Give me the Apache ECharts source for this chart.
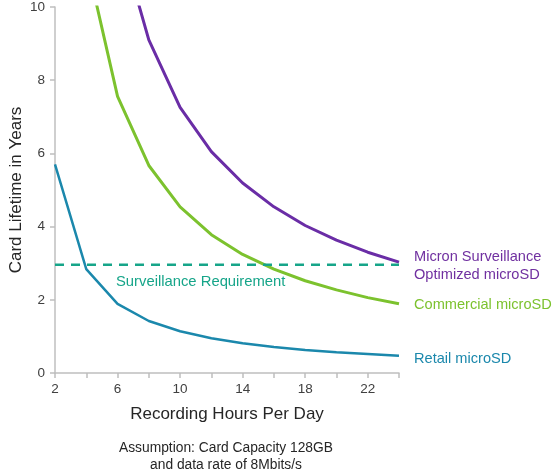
<!DOCTYPE html>
<html>
<head>
<meta charset="utf-8">
<script src="https://cdn.jsdelivr.net/npm/echarts@6/dist/echarts.min.js"></script>
<style>html,body{margin:0;padding:0;background:#fff;}#c{width:553px;height:474px;}</style>
</head>
<body>
<div id="c"></div>
<script>
const hours = [2, 4, 6, 8, 10, 12, 14, 16, 18, 20, 22, 24];
const micron = [36.3, 18.1, 12.1, 9.1, 7.26, 6.05, 5.19, 4.54, 4.03, 3.63, 3.3, 3.03];
const commercial = [22.7, 11.3, 7.56, 5.67, 4.54, 3.78, 3.24, 2.84, 2.52, 2.27, 2.06, 1.89];
const retail = [5.7, 2.84, 1.89, 1.42, 1.14, 0.95, 0.81, 0.71, 0.63, 0.57, 0.52, 0.47];
const requirement = 2.96;
const xTickLabels = [2, 6, 10, 14, 18, 22];

const FONT = '"Liberation Sans", Arial, sans-serif';
const pair = (arr) => hours.map((h, i) => [h, arr[i]]);

const chart = echarts.init(document.getElementById('c'), null, {renderer: 'canvas'});
chart.setOption({
  animation: false,
  textStyle: {fontFamily: FONT},
  grid: {left: 55, right: 154, top: 7, bottom: 101, containLabel: false, outerBoundsMode: 'none'},
  xAxis: {
    type: 'value', min: 2, max: 24, interval: 2,
    name: 'Recording Hours Per Day', nameLocation: 'middle', nameGap: 33,
    nameTextStyle: {fontSize: 17, color: '#262626', fontFamily: FONT},
    axisLine: {show: true, lineStyle: {color: '#bfbfbf', width: 1.5}},
    axisTick: {show: true, length: 5, lineStyle: {color: '#bfbfbf', width: 1.5}},
    axisLabel: {fontSize: 13.5, color: '#404040', margin: 9, fontFamily: FONT,
      formatter: v => xTickLabels.includes(v) ? String(v) : ''},
    splitLine: {show: false}
  },
  yAxis: {
    type: 'value', min: 0, max: 10, interval: 2,
    name: 'Card Lifetime in Years', nameLocation: 'middle', nameGap: 30, nameMoveOverlap: false,
    nameTextStyle: {fontSize: 17, color: '#262626', fontFamily: FONT},
    axisLine: {show: true, lineStyle: {color: '#bfbfbf', width: 1.5}},
    axisTick: {show: true, length: 5, lineStyle: {color: '#bfbfbf', width: 1.5}},
    axisLabel: {fontSize: 13.5, color: '#404040', margin: 10, fontFamily: FONT},
    splitLine: {show: false}
  },
  series: [
    {
      name: 'Retail microSD', type: 'line', data: pair(retail), showSymbol: false, symbol: 'none',
      lineStyle: {color: '#1b88ac', width: 2.5}, clip: true,
      endLabel: {show: true, formatter: 'Retail microSD', color: '#1b88ac', fontSize: 14.6, distance: 15, fontFamily: FONT, offset: [0, 3]}
    },
    {
      name: 'Commercial microSD', type: 'line', data: pair(commercial), showSymbol: false, symbol: 'none',
      lineStyle: {color: '#7cc22e', width: 3}, clip: true,
      endLabel: {show: true, formatter: 'Commercial microSD', color: '#7cc22e', fontSize: 14.6, distance: 15, fontFamily: FONT, offset: [0, 1]}
    },
    {
      name: 'Micron Surveillance Optimized microSD', type: 'line', data: pair(micron), showSymbol: false, symbol: 'none',
      lineStyle: {color: '#6a2da6', width: 3}, clip: true,
      endLabel: {show: true, formatter: 'Micron Surveillance\nOptimized microSD', color: '#7030a0', fontSize: 14.6, lineHeight: 18, distance: 15, fontFamily: FONT, offset: [0, 4]}
    },
    {
      name: 'Surveillance Requirement', type: 'line', data: [[hours[0], requirement], [hours[hours.length - 1], requirement]],
      showSymbol: false, symbol: 'none',
      lineStyle: {color: '#16a589', width: 2.5, type: [9, 7]}
    }
  ],
  graphic: [
    {type: 'text', x: 116, y: 274, style: {text: 'Surveillance Requirement', fill: '#16a589', font: '14.8px ' + FONT}},
    {type: 'text', x: 226, y: 440, style: {text: 'Assumption: Card Capacity 128GB\nand data rate of 8Mbits/s', fill: '#262626', font: '13.8px ' + FONT, align: 'center', lineHeight: 17}}
  ]
});
</script>
</body>
</html>
